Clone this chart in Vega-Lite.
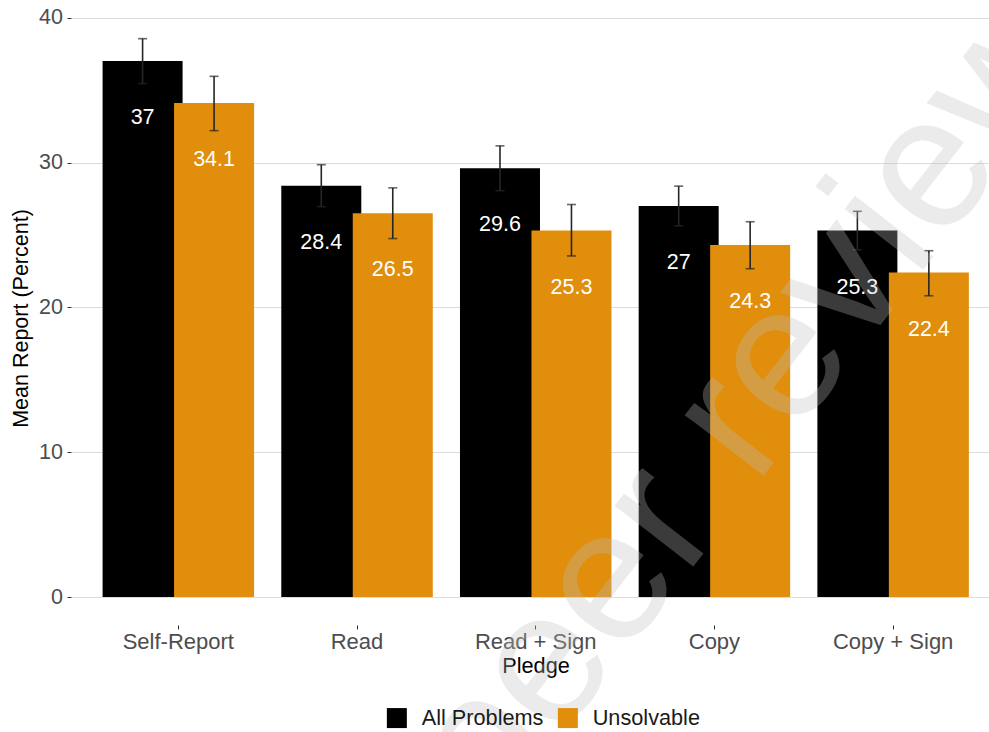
{
  "$schema": "https://vega.github.io/schema/vega-lite/v6.json",
  "width": 918,
  "height": 614,
  "autosize": {"type": "none"},
  "padding": {"left": 71, "top": 11, "right": 0, "bottom": 107},
  "background": "white",
  "config": {
    "view": {"stroke": null},
    "font": "Liberation Sans",
    "axis": {"labelFont": "Liberation Sans", "titleFont": "Liberation Sans", "titleFontWeight": "normal"},
    "legend": {"labelFont": "Liberation Sans"},
    "text": {"font": "Liberation Sans"}
  },
  "data": {
    "values": [
      {"pledge": "Self-Report", "type": "All Problems", "mean": 37, "lo": 35.45, "hi": 38.55},
      {"pledge": "Read", "type": "All Problems", "mean": 28.4, "lo": 26.95, "hi": 29.85},
      {"pledge": "Read + Sign", "type": "All Problems", "mean": 29.6, "lo": 28.05, "hi": 31.15},
      {"pledge": "Copy", "type": "All Problems", "mean": 27, "lo": 25.63, "hi": 28.37},
      {"pledge": "Copy + Sign", "type": "All Problems", "mean": 25.3, "lo": 23.97, "hi": 26.63},
      {"pledge": "Self-Report", "type": "Unsolvable", "mean": 34.1, "lo": 32.2, "hi": 35.95},
      {"pledge": "Read", "type": "Unsolvable", "mean": 26.5, "lo": 24.75, "hi": 28.25},
      {"pledge": "Read + Sign", "type": "Unsolvable", "mean": 25.3, "lo": 23.55, "hi": 27.1},
      {"pledge": "Copy", "type": "Unsolvable", "mean": 24.3, "lo": 22.67, "hi": 25.91},
      {"pledge": "Copy + Sign", "type": "Unsolvable", "mean": 22.4, "lo": 20.8, "hi": 23.91}
    ]
  },
  "layer": [
    {
      "encoding": {
        "x": {
          "field": "pledge", "type": "nominal",
          "sort": ["Self-Report", "Read", "Read + Sign", "Copy", "Copy + Sign"],
          "scale": {"paddingInner": 0.2, "paddingOuter": 0.1686, "align": 0.595},
          "title": "Pledge",
          "axis": {
            "labelAngle": 0, "domain": false, "grid": false, "ticks": true, "tickSize": 4,
            "tickColor": "#333333", "tickWidth": 1,
            "labelFontSize": 22, "labelColor": "#4D4D4D", "labelPadding": 2,
            "titleFontSize": 21.7, "titleColor": "#000000", "titlePadding": 3, "titleX": 464.5
          }
        },
        "xOffset": {
          "field": "type", "type": "nominal",
          "sort": ["All Problems", "Unsolvable"],
          "scale": {"paddingInner": 0, "paddingOuter": 0}
        },
        "y": {
          "field": "mean", "type": "quantitative",
          "scale": {"domain": [-1.93, 40.46], "nice": false, "zero": false},
          "title": "Mean Report (Percent)",
          "axis": {
            "values": [0, 10, 20, 30, 40], "domain": false, "grid": true,
            "gridColor": "#DCDCDC", "gridWidth": 1.2,
            "tickSize": 4, "tickColor": "#333333", "tickWidth": 1,
            "labelFontSize": 21.5, "labelColor": "#4D4D4D", "labelPadding": 4.5,
            "titleFontSize": 21.5, "titleColor": "#000000", "titlePadding": 6
          }
        }
      },
      "layer": [
        {
          "mark": {"type": "bar", "width": 80},
          "encoding": {
            "y2": {"datum": 0},
            "color": {
              "field": "type", "type": "nominal",
              "scale": {"domain": ["All Problems", "Unsolvable"], "range": ["#000000", "#E08E0B"]},
              "legend": {
                "title": null, "orient": "none", "direction": "horizontal",
                "legendX": 315, "legendY": 696, "padding": 0,
                "symbolType": "square", "symbolSize": 400, "symbolStrokeWidth": 0,
                "symbolOpacity": 1,
                "labelFontSize": 21.7, "labelColor": "#1A1A1A", "labelOffset": 14,
                "columnPadding": 13
              }
            }
          }
        },
        {
          "mark": {"type": "rule", "color": "#262626", "strokeWidth": 1.6},
          "encoding": {
            "y": {"field": "lo", "type": "quantitative"},
            "y2": {"field": "hi"}
          }
        },
        {
          "mark": {"type": "tick", "orient": "horizontal", "size": 9, "thickness": 1.6, "color": "#262626"},
          "encoding": {"y": {"field": "lo", "type": "quantitative"}}
        },
        {
          "mark": {"type": "tick", "orient": "horizontal", "size": 9, "thickness": 1.6, "color": "#262626"},
          "encoding": {"y": {"field": "hi", "type": "quantitative"}}
        },
        {
          "mark": {"type": "text", "baseline": "middle", "align": "center", "dy": 57, "fontSize": 21.5, "color": "#FFFFFF"},
          "encoding": {"text": {"field": "mean", "type": "quantitative"}}
        }
      ]
    },
    {
      "data": {"values": [{}]},
      "mark": {
        "type": "text", "text": "peer review", "angle": -52.2, "fontSize": 188,
        "align": "center", "baseline": "alphabetic", "color": "#BFBFBF", "opacity": 0.31,
        "font": "Liberation Sans"
      },
      "encoding": {
        "x": {"datum": 0.784, "type": "quantitative", "scale": {"domain": [0, 1]}, "axis": null},
        "y": {"datum": 10.79, "type": "quantitative", "title": "Mean Report (Percent)"}
      }
    }
  ],
  "resolve": {"scale": {"x": "independent"}}
}
